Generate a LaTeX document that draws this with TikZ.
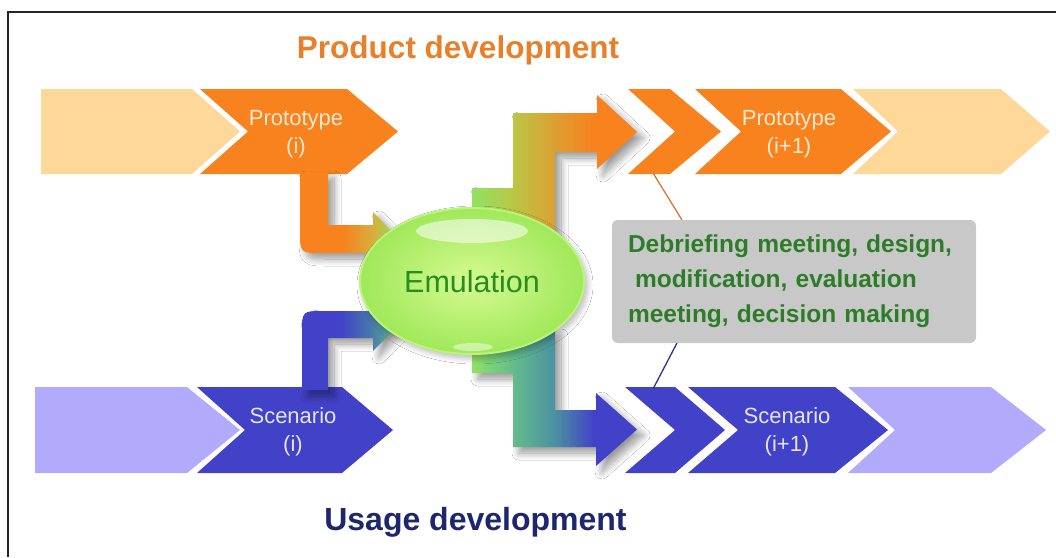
\documentclass[tikz,border=0pt]{standalone}
\usepackage{fontspec}
\setmainfont{Liberation Sans}
\usetikzlibrary{shapes.geometric,shadows.blur}
\definecolor{cOr}{RGB}{247,130,30}
\definecolor{cOrL}{RGB}{253,216,152}
\definecolor{cBl}{RGB}{66,66,200}
\definecolor{cBlL}{RGB}{178,170,250}
\definecolor{cGr}{RGB}{145,225,100}
\definecolor{cOl}{RGB}{205,185,65}
\definecolor{cTeal}{RGB}{75,145,160}
\definecolor{cYG}{RGB}{185,200,70}
\definecolor{cOO}{RGB}{220,160,50}
\definecolor{cSG}{RGB}{100,190,140}
\definecolor{cBT}{RGB}{70,110,185}
\definecolor{cOG}{RGB}{215,175,60}
\definecolor{cBG}{RGB}{70,120,170}
\definecolor{tOr}{RGB}{232,128,42}
\definecolor{tNavy}{RGB}{30,38,110}
\definecolor{tGr}{RGB}{45,125,40}
\definecolor{tEm}{RGB}{40,140,30}
\definecolor{boxgray}{RGB}{200,200,200}
\definecolor{labOr}{RGB}{253,232,208}
\definecolor{labBl}{RGB}{228,228,252}
\definecolor{emIn}{RGB}{214,250,145}
\definecolor{emOut}{RGB}{160,232,90}
\definecolor{emRim}{RGB}{185,245,120}
\definecolor{lnOr}{RGB}{215,120,50}
\definecolor{lnBl}{RGB}{50,50,140}
\pgfdeclarehorizontalshading{orgr}{100bp}{color(0bp)=(cOr); color(25bp)=(cOr); color(47bp)=(cOr); color(62bp)=(cOG); color(75bp)=(cGr); color(100bp)=(cGr)}
\pgfdeclarehorizontalshading{blgr}{100bp}{color(0bp)=(cBl); color(25bp)=(cBl); color(45bp)=(cBl); color(60bp)=(cBG); color(75bp)=(cSG); color(100bp)=(cSG)}
\pgfdeclarehorizontalshading{gror}{100bp}{color(0bp)=(cGr); color(25bp)=(cGr); color(37bp)=(cYG); color(50bp)=(cOO); color(62bp)=(cOr); color(100bp)=(cOr)}
\pgfdeclarehorizontalshading{grbl}{100bp}{color(0bp)=(cGr); color(25bp)=(cGr); color(37bp)=(cSG); color(50bp)=(cTeal); color(62bp)=(cBl); color(100bp)=(cBl)}
\tikzset{
  lab/.style={font=\fontsize{22}{28}\selectfont, align=center, inner sep=0pt},
  title/.style={font=\fontsize{31.5}{36}\selectfont\bfseries, anchor=base, inner sep=0pt},
  bentshadow/.style={blur shadow={shadow xshift=6pt, shadow yshift=-6pt, shadow opacity=40, shadow blur steps=12, shadow blur radius=7pt}},
  calloutbox/.style={fill=boxgray, rounded corners=6pt, minimum width=364pt, minimum height=123pt,
     text width=332pt, align=left, inner xsep=16pt, text=tGr,
     font=\fontsize{24.5}{35}\selectfont\bfseries},
  conn/.style={line width=1.3pt}
}
\begin{document}
\begin{tikzpicture}[x=1pt,y=-1pt]
\useasboundingbox (0,0) rectangle (1056,557);
\fill[white] (0,0) rectangle (1056,557);
% frame
\draw[line width=1.6pt, black!85] (8,557) -- (8,12) -- (1056,12);

% top row chevrons
\fill[cOrL] (41,89) -- (192,89) -- (240,131.5) -- (192,174) -- (41,174) -- cycle;
\fill[cOr] (200,89) -- (347,89) -- (398,131.5) -- (347,174) -- (200,174) -- (248,131.5) -- cycle;
\fill[cOrL] (853,89) -- (1001,89) -- (1050,131.5) -- (1001,174) -- (853,174) -- (898,131.5) -- cycle;
\fill[cOr] (695,89) -- (841,89) -- (891,131.5) -- (841,174) -- (695,174) -- (741,131.5) -- cycle;
\fill[cOr] (628,89) -- (670,89) -- (721,131.5) -- (670,174) -- (628,174) -- (675,131.5) -- cycle;

% bottom row chevrons
\fill[cBlL] (35,387) -- (187,387) -- (240,430) -- (187,473) -- (35,473) -- cycle;
\fill[cBl] (197,387) -- (342,387) -- (393,430) -- (342,473) -- (197,473) -- (245,430) -- cycle;
\fill[cBlL] (848,387) -- (991,387) -- (1046,430) -- (991,473) -- (848,473) -- (895,430) -- cycle;
\fill[cBl] (688,387) -- (835,387) -- (888,430) -- (835,473) -- (688,473) -- (738,430) -- cycle;
\fill[cBl] (625,387) -- (675,387) -- (725,430) -- (675,473) -- (625,473) -- (675,430) -- cycle;

% bent arrows into emulation
\path[shading=orgr, bentshadow] (300,172) -- (328,172) -- (328,225) -- (373,225) -- (373,212) -- (399,239) -- (373,266) -- (373,253) -- (322,253) .. controls (300,253) .. (300,231) -- cycle;
\path[shading=blgr, bentshadow] (302,390) -- (302,333) .. controls (302,311) .. (324,311) -- (373,311) -- (373,298) -- (399,324.5) -- (373,351) -- (373,338) -- (328,338) -- (328,390) -- cycle;

% stepped arrows out of emulation
\path[shading=gror, bentshadow] (472,235) -- (472,188) -- (513,188) -- (513,113) -- (597,113) -- (597,95) -- (637,132) -- (597,169) -- (597,152) -- (555,152) -- (555,235) -- cycle;
\path[shading=grbl, bentshadow] (472,330) -- (555,330) -- (555,410) -- (596,410) -- (596,393) -- (637,429.5) -- (596,466) -- (596,447) -- (513,447) -- (513,373) -- (472,373) -- cycle;

% emulation ellipse
\node[ellipse, minimum width=224pt, minimum height=146pt, inner color=emIn, outer color=emOut,
  draw=emRim, line width=2pt,
  blur shadow={shadow xshift=3pt, shadow yshift=-4pt, shadow opacity=30, shadow blur steps=10, shadow blur radius=6pt}] (emu) at (472,281) {};
\fill[white, opacity=0.55] (472,231) ellipse [x radius=56, y radius=12];
\fill[white, opacity=0.45] (473,347) ellipse [x radius=20, y radius=4];
\node[font=\fontsize{30.5}{36}\selectfont, text=tEm, anchor=base, inner sep=0pt] (emutext) at (472,292) {Emulation};

% chevron labels
\node[lab, text=labOr] (p1) at (296,134) {Prototype\\(i)};
\node[lab, text=labOr] (p2) at (789,134) {Prototype\\(i+1)};
\node[lab, text=labBl] (s1) at (293,432) {Scenario\\(i)};
\node[lab, text=labBl] (s2) at (787,432) {Scenario\\(i+1)};

% titles
\node[title, text=tOr] (tPD) at (458,58) {Product development};
\node[title, text=tNavy, font=\fontsize{32}{36}\selectfont\bfseries] (tUD) at (475.5,530) {Usage development};

% callout
\node[calloutbox] (callout) at (794,281.5) {Debriefing meeting, design,\\\hspace*{7pt}modification, evaluation\\meeting, decision making};
\coordinate (oa) at (653,173);
\coordinate (ob) at (682,220);
\coordinate (ba) at (677,343);
\coordinate (bb) at (653,389);
\draw[conn, lnOr] (oa) -- (ob);
\draw[conn, lnBl] (ba) -- (bb);
\end{tikzpicture}
\end{document}
